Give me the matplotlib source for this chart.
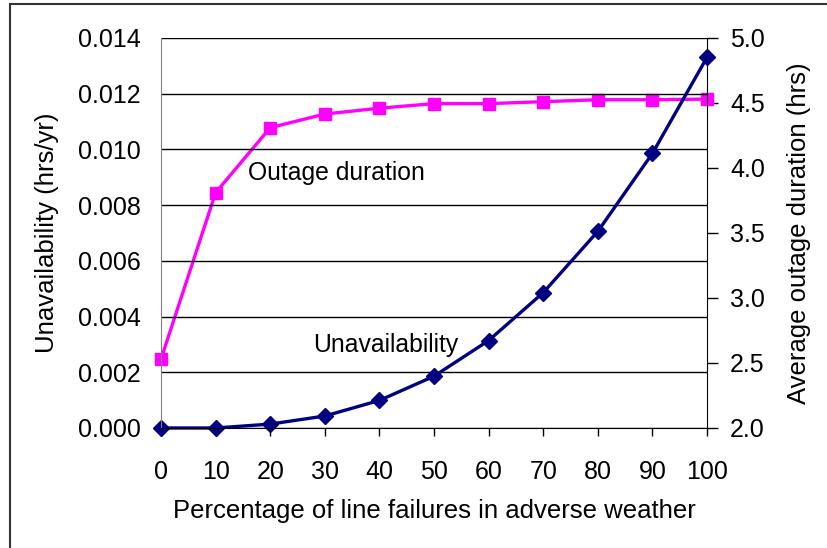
'''
Unavailability and average outage duration vs. share of line failures in adverse weather
'''
import matplotlib
matplotlib.use('Agg')
import matplotlib.pyplot as plt
from matplotlib.ticker import FormatStrFormatter, MultipleLocator
from matplotlib.patches import Rectangle

#Data
pct_adverse = [0, 10, 20, 30, 40, 50, 60, 70, 80, 90, 100]
unavailability = [0.0, 0.0, 0.00014, 0.00043, 0.00099, 0.00186, 0.00314,
                  0.00486, 0.00706, 0.00986, 0.01331]
outage_duration = [2.53, 3.81, 4.31, 4.415, 4.46, 4.495, 4.495, 4.51,
                   4.525, 4.525, 4.53]

xlabel = 'Percentage of line failures in adverse weather'
ylabel_left = 'Unavailability (hrs/yr)'
ylabel_right = 'Average outage duration (hrs)'

navy = '#000080'
magenta = '#FF00FF'
tick_size = 18
label_size = 18.5
note_size = 17.8

plt.rcParams['font.family'] = ['Liberation Sans', 'DejaVu Sans']

fig = plt.figure(figsize=(8.27, 5.48), dpi=100)
ax = fig.add_axes([0.1947, 0.219, 0.855 - 0.1947, 0.9307 - 0.219])
ax2 = ax.twinx()

#Outage duration on the secondary axis
ax2.plot(pct_adverse, outage_duration, color=magenta, lw=2.4, marker='s',
         ms=8, clip_on=False)
#Unavailability on the primary axis, drawn on top
ax.plot(pct_adverse, unavailability, color=navy, lw=2.4, marker='D',
        ms=8, clip_on=False)
ax.set_zorder(ax2.get_zorder() + 1)
ax.patch.set_visible(False)

#Primary axis
ax.set_xlim(0, 100)
ax.set_ylim(0, 0.014)
ax.xaxis.set_major_locator(MultipleLocator(10))
ax.yaxis.set_major_locator(MultipleLocator(0.002))
ax.yaxis.set_major_formatter(FormatStrFormatter('%.3f'))
ax.grid(axis='y', color='black', lw=1)
ax.set_axisbelow(True)
ax.tick_params(axis='y', length=0, pad=14.5, labelsize=tick_size)
ax.tick_params(axis='x', length=6, width=1, pad=17, labelsize=tick_size,
               color='black')
for side in ['top', 'right']:
    ax.spines[side].set_visible(False)
ax.spines['left'].set_color('#808080')
ax.spines['bottom'].set_color('black')
ax.set_xlabel(xlabel, fontsize=label_size, labelpad=11)
ax.set_ylabel(ylabel_left, fontsize=label_size, labelpad=14)

#Secondary axis
ax2.set_ylim(2.0, 5.0)
ax2.yaxis.set_major_locator(MultipleLocator(0.5))
ax2.yaxis.set_major_formatter(FormatStrFormatter('%.1f'))
ax2.tick_params(axis='y', length=8, width=1, pad=8.5, labelsize=tick_size)
for side in ['top', 'left', 'bottom']:
    ax2.spines[side].set_visible(False)
ax2.spines['right'].set_color('black')
ax2.set_ylabel(ylabel_right, fontsize=label_size, labelpad=16)

#Series labels
ax.text(15.9, 0.00915, 'Outage duration', fontsize=note_size, va='center',
        ha='left')
ax.text(27.8, 0.00298, 'Unavailability', fontsize=note_size, va='center',
        ha='left')

#Outer frame (only top and left visible in the crop)
fig.patches.append(Rectangle((0.012, -0.2), 1.2, 0.2 + 0.9935,
                             transform=fig.transFigure, fill=False,
                             edgecolor='#333333', lw=1.5))

fig.savefig('out.png', dpi=100)
